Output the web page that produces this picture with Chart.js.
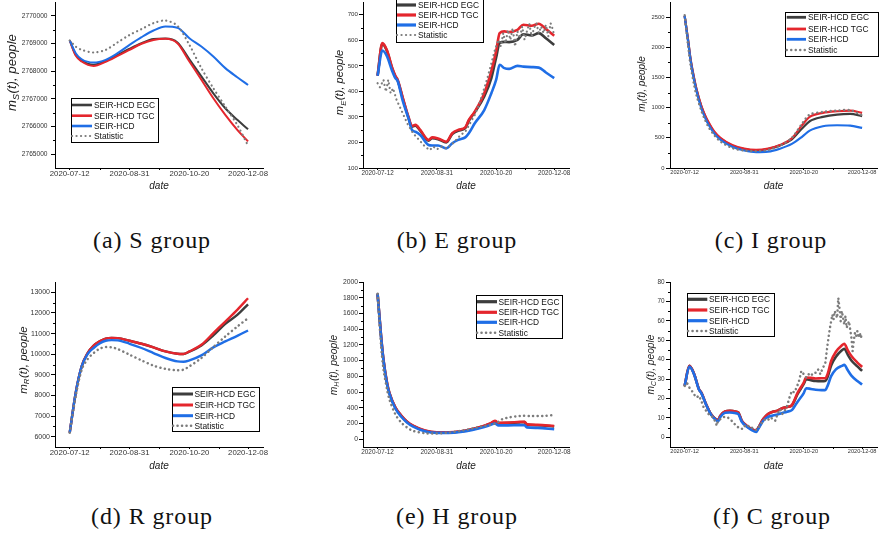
<!DOCTYPE html>
<html>
<head>
<meta charset="utf-8">
<script src="https://cdn.jsdelivr.net/npm/chart.js@4.4.1/dist/chart.umd.min.js"></script>
<style>
  html, body { margin: 0; padding: 0; background: #fff; }
  body { width: 879px; height: 533px; position: relative; overflow: hidden; }
  .panel { position: absolute; }
  .cap {
    position: absolute; transform: translate(-50%, -50%);
    font-family: "Liberation Serif", "Times New Roman", serif; font-size: 24px;
    letter-spacing: 0.9px; color: #111; white-space: nowrap;
  }
</style>
</head>
<body>
<div class="panel" id="pS"><canvas id="cS"></canvas></div>
<div class="panel" id="pE"><canvas id="cE"></canvas></div>
<div class="panel" id="pI"><canvas id="cI"></canvas></div>
<div class="panel" id="pR"><canvas id="cR"></canvas></div>
<div class="panel" id="pH"><canvas id="cH"></canvas></div>
<div class="panel" id="pC"><canvas id="cC"></canvas></div>

<div class="cap" style="left:152px;top:240px">(a) S group</div>
<div class="cap" style="left:457px;top:240px">(b) E group</div>
<div class="cap" style="left:771px;top:240px">(c) I group</div>
<div class="cap" style="left:152px;top:516px">(d) R group</div>
<div class="cap" style="left:457px;top:516px">(e) H group</div>
<div class="cap" style="left:772px;top:516px">(f) C group</div>

<script>
// ---- shared date axis (day 0 = 2020-07-12) ----
const DATE_TICKS  = [0, 50, 100, 149];
const DATE_LABELS = ['2020-07-12', '2020-08-31', '2020-10-20', '2020-12-08'];
const SERIES_NAMES = ['SEIR-HCD EGC', 'SEIR-HCD TGC', 'SEIR-HCD', 'Statistic'];

// ---- S group ----
const S_DAYS = [0, 5, 10, 20, 30, 40, 50, 60, 70, 80, 90, 100, 110, 120, 130, 140, 149];
const S_EGC  = [2769110, 2768590, 2768380, 2768230, 2768375, 2768590, 2768810, 2769010, 2769160, 2769180, 2769040, 2768430, 2767810, 2767200, 2766660, 2766240, 2765900];
const S_TGC  = [2769110, 2768565, 2768350, 2768190, 2768340, 2768550, 2768770, 2768990, 2769130, 2769170, 2769010, 2768350, 2767690, 2767020, 2766420, 2765880, 2765460];
const S_HCD  = [2769110, 2768650, 2768430, 2768310, 2768410, 2768650, 2768950, 2769230, 2769470, 2769615, 2769570, 2769190, 2768890, 2768530, 2768110, 2767780, 2767500];
const S_STAT = [2769110, 2768890, 2768770, 2768675, 2768770, 2769040, 2769310, 2769520, 2769735, 2769830, 2769640, 2768950, 2768110, 2767385, 2766720, 2766060, 2765310];
const S_YTICKS = [2765000, 2766000, 2767000, 2768000, 2769000, 2770000];

// ---- E group ----
const E_DAYS = [0, 4, 8, 12, 15, 17, 21, 26, 29, 32, 36, 43, 46, 51, 58, 63, 68, 74, 77, 82, 90, 96, 100, 103, 107, 111, 118, 123, 130, 136, 142, 149];
const E_TGC  = [461, 589, 560, 497, 461, 445, 380, 301, 265, 269, 249, 210, 220, 216, 203, 236, 249, 259, 288, 321, 393, 480, 557, 628, 635, 632, 641, 661, 657, 665, 644, 618];
const E_EGC  = [461, 586, 557, 494, 458, 442, 377, 298, 262, 266, 246, 207, 217, 213, 200, 233, 246, 256, 285, 318, 380, 452, 532, 590, 594, 593, 602, 624, 619, 628, 608, 582];
const E_HCD  = [461, 560, 537, 484, 452, 440, 367, 295, 249, 242, 229, 190, 188, 188, 177, 197, 210, 220, 236, 275, 327, 393, 445, 504, 491, 488, 500, 497, 495, 493, 474, 452];
const E_STAT_DAYS = [0, 2, 5, 7, 9, 11, 13, 16, 20, 25, 30, 35, 40, 44, 47, 50, 54, 58, 62, 65, 70, 74, 78, 82, 86, 90, 93, 96, 99, 102, 104, 106, 108, 110, 112, 114, 116, 118, 120, 122, 124, 126, 128, 130, 132, 134, 136, 138, 140, 142, 144, 146, 148, 149];
const E_STAT = [432, 416, 445, 399, 445, 393, 412, 367, 327, 275, 236, 210, 184, 170, 184, 173, 184, 177, 190, 203, 229, 242, 275, 308, 354, 412, 458, 510, 563, 602, 576, 628, 589, 641, 602, 648, 576, 635, 608, 654, 602, 635, 665, 615, 648, 667, 628, 654, 628, 661, 615, 667, 641, 615];
const E_YTICKS = [100, 200, 300, 400, 500, 600, 700];

// ---- I group ----
const I_DAYS = [0, 3, 5, 8, 10, 14, 17, 20, 25, 30, 40, 50, 60, 70, 80, 90, 99, 105, 116, 128, 139, 149];
const I_EGC  = [2520, 2100, 1800, 1480, 1300, 1020, 870, 750, 590, 490, 370, 315, 295, 315, 375, 475, 664, 774, 846, 885, 896, 857];
const I_TGC  = [2520, 2100, 1800, 1480, 1300, 1030, 880, 760, 600, 500, 380, 320, 300, 320, 380, 490, 720, 846, 913, 940, 951, 913];
const I_HCD  = [2520, 2080, 1780, 1450, 1270, 990, 840, 720, 570, 470, 350, 290, 262, 270, 320, 400, 525, 619, 691, 708, 702, 664];
const I_STAT = [2530, 2000, 1700, 1370, 1200, 950, 800, 680, 540, 440, 330, 290, 280, 300, 370, 500, 747, 885, 929, 951, 957, 874];
const I_YTICKS = [0, 500, 1000, 1500, 2000, 2500];

// ---- R group ----
const R_DAYS = [0, 5, 10, 15, 20, 25, 30, 35, 40, 50, 60, 70, 80, 90, 95, 100, 110, 120, 130, 140, 149];
const R_EGC  = [6193, 8124, 9411, 10055, 10410, 10620, 10750, 10790, 10780, 10650, 10505, 10330, 10135, 10020, 10010, 10120, 10420, 10910, 11470, 11905, 12420];
const R_TGC  = [6193, 8124, 9411, 10055, 10410, 10620, 10750, 10790, 10780, 10650, 10505, 10330, 10135, 10020, 10010, 10135, 10455, 11020, 11584, 12150, 12710];
const R_HCD  = [6193, 8124, 9411, 10010, 10300, 10520, 10650, 10680, 10670, 10505, 10300, 10055, 9815, 9650, 9635, 9700, 9940, 10330, 10620, 10890, 11150];
const R_STAT = [6190, 7960, 9250, 9765, 10055, 10265, 10345, 10330, 10250, 9975, 9700, 9445, 9285, 9220, 9250, 9410, 9815, 10345, 10860, 11340, 11745];
const R_YTICKS = [6000, 7000, 8000, 9000, 10000, 11000, 12000, 13000];

// ---- H group ----
const H_DAYS = [0, 3, 5, 8, 10, 15, 20, 25, 30, 40, 50, 60, 70, 80, 90, 95, 99, 102, 110, 120, 124, 126, 135, 149];
const H_EGC  = [1850, 1300, 1005, 712, 585, 402, 297, 219, 169, 107, 85, 85, 97, 127, 168, 196, 226, 203, 205, 214, 216, 183, 177, 162];
const H_TGC  = [1853, 1305, 1010, 716, 589, 405, 300, 222, 172, 110, 88, 88, 100, 130, 172, 200, 232, 208, 210, 220, 222, 188, 182, 168];
const H_HCD  = [1853, 1290, 995, 700, 575, 390, 285, 210, 160, 100, 80, 80, 92, 118, 155, 180, 200, 175, 175, 178, 176, 150, 143, 126];
const H_STAT_DAYS = [0, 3, 5, 8, 10, 15, 20, 25, 30, 40, 50, 60, 70, 80, 90, 100, 105, 110, 120, 130, 140, 149];
const H_STAT = [1850, 1180, 884, 632, 505, 316, 210, 147, 105, 76, 72, 84, 105, 135, 168, 202, 253, 274, 295, 295, 295, 307];
const H_YTICKS = [0, 200, 400, 600, 800, 1000, 1200, 1400, 1600, 1800, 2000];

// ---- C group ----
const C_DAYS = [0, 4, 8, 12, 14, 18, 22, 26, 28, 30, 34, 38, 42, 45, 48, 52, 56, 60, 62, 66, 70, 74, 78, 82, 86, 90, 95, 100, 102, 106, 110, 115, 118, 120, 123, 127, 132, 134, 137, 140, 145, 149];
const C_TGC  = [26.5, 36.8, 32.5, 24.8, 23, 17, 12, 9.4, 8.9, 11.1, 13.3, 13.7, 13.3, 12.8, 8.5, 6, 4.3, 3.4, 5.1, 9.4, 12, 13.2, 13.7, 15, 15.6, 16.6, 23.1, 28.2, 30.8, 30.6, 30.3, 30.4, 30.4, 32.5, 39.3, 44.1, 47.4, 48.2, 44.8, 41.9, 38.5, 36.2];
const C_EGC  = [26.5, 36.8, 32.5, 24.8, 23, 17, 12, 9.4, 8.9, 11.1, 13.3, 13.7, 13.3, 12.8, 8.5, 6, 4.3, 3.4, 5.1, 9.4, 12, 13.2, 13.7, 15, 15.6, 16.4, 22.5, 27.5, 29.9, 29.4, 29, 28.9, 29, 31, 37, 41.5, 44.8, 45.6, 42.5, 39.6, 36.5, 34.2];
const C_HCD  = [26.5, 36.5, 32.3, 24.6, 22.8, 16.8, 11.8, 9, 8.2, 10.5, 12.6, 12.8, 12.5, 12, 8, 5.5, 3.8, 2.7, 4.5, 8.5, 10.5, 11.2, 11.8, 12.5, 13.2, 14, 18.5, 22.8, 25.3, 24.9, 24.5, 24.3, 24.3, 26.5, 31.5, 35, 36.8, 37.3, 34.5, 31.8, 29, 27.2];
const C_STAT_DAYS = [0, 2, 4, 6, 8, 10, 12, 14, 16, 18, 20, 22, 24, 26, 27, 28, 30, 32, 34, 36, 38, 40, 42, 44, 46, 48, 50, 52, 54, 56, 58, 60, 62, 64, 66, 68, 70, 72, 74, 76, 78, 80, 82, 84, 86, 88, 90, 92, 94, 96, 98, 100, 102, 104, 106, 108, 110, 112, 114, 116, 118, 120, 122, 124, 125, 126, 128, 129, 130, 131, 132, 134, 135, 136, 138, 140, 141, 142, 143, 144, 145, 146, 147, 148, 149];
const C_STAT = [26.5, 28, 25.6, 24, 22, 20.5, 21.4, 18.8, 15.4, 13.7, 12, 11.1, 10.3, 7.7, 6, 8.5, 9.4, 10.3, 10.6, 10.3, 9.4, 8.2, 6.8, 5.5, 4.8, 4.3, 6, 5.1, 6, 5.1, 4.3, 3.8, 5.1, 6.8, 8.5, 9.4, 8.9, 10.3, 9.4, 8.5, 12, 14.5, 12, 13.7, 16.2, 20.5, 23.9, 23.1, 25.6, 29, 34.2, 32.5, 30.8, 32.5, 31.6, 33.3, 33.3, 35, 32.5, 35.9, 37.6, 47.9, 56.4, 63.2, 60.7, 65, 61.5, 71.8, 66.7, 59.8, 65, 58.1, 62.4, 56.4, 59.8, 51.3, 44.4, 49.6, 53.8, 52.1, 54.7, 51.3, 53.8, 51.3, 53.8];
const C_YTICKS = [0, 10, 20, 30, 40, 50, 60, 70, 80];

// ---- styling ----
const FAMILY = '"Liberation Sans", Arial, Helvetica, sans-serif';
const COLORS = { egc: '#3d3d3d', tgc: '#e4262d', hcd: '#1f6ee6', stat: '#7c7c7c' };
const X_MIN = -12.3, X_MAX = 161.5;
const DOT_DASH = [0.1, 4.4];

Chart.defaults.font.family = FAMILY;
Chart.defaults.color = '#333';

// Boxed legend drawn inside the plot, built from the dataset styles.
const legendBox = {
  id: 'legendBox',
  afterDraw(chart, args, o) {
    const ctx = chart.ctx;
    const [x0, y0, x1, y1] = o.rect;
    ctx.save();
    ctx.fillStyle = '#fff';
    ctx.fillRect(x0, y0, x1 - x0, y1 - y0);
    ctx.strokeStyle = '#000';
    ctx.lineWidth = 1;
    ctx.strokeRect(Math.round(x0) + 0.5, Math.round(y0) + 0.5, Math.round(x1 - x0), Math.round(y1 - y0));
    ctx.font = o.fontSize + 'px ' + FAMILY;
    ctx.textBaseline = 'middle';
    ctx.textAlign = 'left';
    chart.data.datasets.forEach((ds, k) => {
      const ry = o.rows[k];
      ctx.beginPath();
      ctx.strokeStyle = ds.borderColor;
      ctx.lineWidth = ds.legendWidth;
      ctx.setLineDash(ds.borderDash || []);
      ctx.lineCap = ds.borderCapStyle || 'butt';
      ctx.moveTo(o.line[0], ry);
      ctx.lineTo(o.line[1], ry);
      ctx.stroke();
      ctx.setLineDash([]);
      ctx.fillStyle = '#111';
      ctx.fillText(ds.label, o.textX, ry + 0.5);
    });
    ctx.restore();
  }
};

// Italic axis titles; the y title carries a subscripted compartment letter.
const axisTitles = {
  id: 'axisTitles',
  afterDraw(chart, args, o) {
    const ctx = chart.ctx;
    ctx.save();
    ctx.fillStyle = '#1a1a1a';
    ctx.textBaseline = 'alphabetic';
    const f = o.ySize, fs = f * 0.68;
    const big = 'italic ' + f + 'px ' + FAMILY;
    const small = 'italic ' + fs + 'px ' + FAMILY;
    const tail = '(t), people';
    ctx.font = big;
    const w1 = ctx.measureText('m').width;
    const w3 = ctx.measureText(tail).width;
    ctx.font = small;
    const w2 = ctx.measureText(o.sub).width + 0.5;
    ctx.translate(o.yCx, o.yCy);
    ctx.rotate(-Math.PI / 2);
    let x = -(w1 + w2 + w3) / 2;
    const base = f * 0.36;
    ctx.font = big;  ctx.fillText('m', x, base); x += w1;
    ctx.font = small; ctx.fillText(o.sub, x, base + f * 0.2); x += w2;
    ctx.font = big;  ctx.fillText(tail, x, base);
    ctx.setTransform(1, 0, 0, 1, 0, 0);
    ctx.font = 'italic ' + o.xSize + 'px ' + FAMILY;
    ctx.textAlign = 'center';
    ctx.textBaseline = 'middle';
    ctx.fillText('date', o.xCx, o.xCy);
    ctx.restore();
  }
};

// Short minor ticks halfway between major ticks.
const minorTicks = {
  id: 'minorTicks',
  afterDraw(chart, args, o) {
    const { ctx, chartArea: a, scales: { x, y } } = chart;
    ctx.save();
    ctx.strokeStyle = '#000';
    ctx.lineWidth = 1;
    ctx.beginPath();
    const yt = y.ticks.map(t => t.value);
    for (let i = 0; i < yt.length - 1; i++) {
      const py = Math.round(y.getPixelForValue((yt[i] + yt[i + 1]) / 2)) + 0.5;
      ctx.moveTo(a.left, py); ctx.lineTo(a.left - o.len, py);
    }
    const xt = x.ticks.map(t => t.value);
    for (let i = 0; i < xt.length - 1; i++) {
      const px = Math.round(x.getPixelForValue((xt[i] + xt[i + 1]) / 2)) + 0.5;
      ctx.moveTo(px, a.bottom); ctx.lineTo(px, a.bottom + o.len);
    }
    ctx.stroke();
    ctx.restore();
  }
};

function pts(days, vals) { return days.map((d, i) => ({ x: d, y: vals[i] })); }

function build(p) {
  const [bx, by, bx2, by2] = p.box;
  const [pl, pt, pr, pb] = p.plot;
  const holder = document.getElementById(p.holder);
  holder.style.left = bx + 'px';
  holder.style.top = by + 'px';
  holder.style.width = (bx2 - bx) + 'px';
  holder.style.height = (by2 - by) + 'px';

  const model = (color, order, label, data) => ({
    label, data, borderColor: color, borderWidth: p.lw, legendWidth: p.lw + 0.6,
    pointRadius: 0, cubicInterpolationMode: 'monotone', fill: false, order
  });
  const datasets = [
    model(COLORS.egc, 4, SERIES_NAMES[0], pts(p.days, p.egc)),
    model(COLORS.tgc, 3, SERIES_NAMES[1], pts(p.days, p.tgc)),
    model(COLORS.hcd, 2, SERIES_NAMES[2], pts(p.days, p.hcd)),
    {
      label: SERIES_NAMES[3], data: pts(p.statDays, p.stat),
      borderColor: COLORS.stat, borderWidth: p.dotW, legendWidth: p.dotW,
      borderDash: DOT_DASH, borderCapStyle: 'round', pointRadius: 0,
      tension: p.statTension, fill: false, order: 1
    }
  ];

  const L = p.legend;
  const shiftX = v => v - bx, shiftY = v => v - by;

  new Chart(document.getElementById(p.canvas), {
    type: 'line',
    data: { datasets },
    plugins: [minorTicks, legendBox, axisTitles],
    options: {
      responsive: true,
      maintainAspectRatio: false,
      animation: false,
      events: [],
      layout: { padding: { left: 0, top: pt - by, right: bx2 - pr, bottom: 0 } },
      scales: {
        x: {
          type: 'linear', min: X_MIN, max: X_MAX,
          afterBuildTicks: s => { s.ticks = DATE_TICKS.map(v => ({ value: v })); },
          afterFit: s => { s.height = by2 - pb; s.paddingLeft = 0; s.paddingRight = 0; },
          border: { display: true, color: '#000', width: 1 },
          grid: { drawOnChartArea: false, drawTicks: true, tickLength: 2, tickColor: '#000' },
          ticks: {
            autoSkip: false, maxRotation: 0, minRotation: 0, padding: -1,
            color: '#333', font: { size: p.xFont },
            callback: (v, i) => DATE_LABELS[i]
          }
        },
        y: {
          type: 'linear', min: p.yRange[0], max: p.yRange[1],
          afterBuildTicks: s => { s.ticks = p.yTicks.map(v => ({ value: v })); },
          afterFit: s => { s.width = pl - bx; s.paddingTop = 0; s.paddingBottom = 0; },
          border: { display: true, color: '#000', width: 1 },
          grid: { drawOnChartArea: false, drawTicks: true, tickLength: 4, tickColor: '#000' },
          ticks: {
            autoSkip: false, padding: p.yPad,
            color: '#333', font: { size: p.yFont },
            callback: v => String(v)
          }
        }
      },
      plugins: {
        legend: { display: false },
        tooltip: { enabled: false },
        minorTicks: { len: 2 },
        legendBox: {
          rect: [shiftX(L.rect[0]), shiftY(L.rect[1]), shiftX(L.rect[2]), shiftY(L.rect[3])],
          rows: L.rows.map(shiftY),
          line: L.line.map(shiftX),
          textX: shiftX(L.textX),
          fontSize: 8.4
        },
        axisTitles: {
          sub: p.sub, ySize: p.yTitle[2], yCx: shiftX(p.yTitle[0]), yCy: shiftY(p.yTitle[1]),
          xSize: 10, xCx: shiftX((pl + pr) / 2), xCy: shiftY(p.xTitleY)
        }
      }
    }
  });
}

const PANELS = [
  { holder: 'pS', canvas: 'cS', box: [0, 0, 290, 200], plot: [55, 2, 263, 168],
    yRange: [2764500, 2770500], yTicks: S_YTICKS, sub: 'S',
    days: S_DAYS, egc: S_EGC, tgc: S_TGC, hcd: S_HCD, statDays: S_DAYS, stat: S_STAT, statTension: 0.3,
    lw: 2, dotW: 2.2, xFont: 7.8, yFont: 6.6, yPad: 3.5, yTitle: [11.5, 72.5, 13.2], xTitleY: 186.7,
    legend: { rect: [71, 98, 158, 142], rows: [105, 115.7, 126, 136], line: [72, 92], textX: 94 } },
  { holder: 'pE', canvas: 'cE', box: [290, 0, 590, 200], plot: [363, 2, 569, 168],
    yRange: [100, 750], yTicks: E_YTICKS, sub: 'E',
    days: E_DAYS, egc: E_EGC, tgc: E_TGC, hcd: E_HCD, statDays: E_STAT_DAYS, stat: E_STAT, statTension: 0,
    lw: 2.6, dotW: 2.2, xFont: 6.3, yFont: 6.2, yPad: 1, yTitle: [339.3, 82.5, 11.2], xTitleY: 186.7,
    legend: { rect: [396, -1, 483, 42], rows: [5, 15, 25, 35], line: [397, 416], textX: 418 } },
  { holder: 'pI', canvas: 'cI', box: [590, 0, 879, 200], plot: [670, 2, 877, 168],
    yRange: [0, 2750], yTicks: I_YTICKS, sub: 'I',
    days: I_DAYS, egc: I_EGC, tgc: I_TGC, hcd: I_HCD, statDays: I_DAYS, stat: I_STAT, statTension: 0.3,
    lw: 2.2, dotW: 2.4, xFont: 5.6, yFont: 5.8, yPad: 1.5, yTitle: [641.7, 84, 10], xTitleY: 186.7,
    legend: { rect: [785, 12, 878, 56], rows: [17.3, 29, 39.3, 50], line: [786.7, 806], textX: 808 } },
  { holder: 'pR', canvas: 'cR', box: [0, 270, 290, 480], plot: [55, 282, 263, 447],
    yRange: [5500, 13500], yTicks: R_YTICKS, sub: 'R',
    days: R_DAYS, egc: R_EGC, tgc: R_TGC, hcd: R_HCD, statDays: R_DAYS, stat: R_STAT, statTension: 0.3,
    lw: 2.4, dotW: 2.5, xFont: 7.8, yFont: 7, yPad: 1, yTitle: [23, 360, 11.5], xTitleY: 466.7,
    legend: { rect: [171.7, 387.3, 258.3, 431.7], rows: [394, 405, 415.7, 425.7], line: [173, 193], textX: 194.5 } },
  { holder: 'pH', canvas: 'cH', box: [290, 270, 590, 480], plot: [363, 282, 569, 447],
    yRange: [-100, 2000], yTicks: H_YTICKS, sub: 'H',
    days: H_DAYS, egc: H_EGC, tgc: H_TGC, hcd: H_HCD, statDays: H_STAT_DAYS, stat: H_STAT, statTension: 0.3,
    lw: 2.6, dotW: 2.5, xFont: 6.4, yFont: 6.8, yPad: 1, yTitle: [333.3, 365, 10.3], xTitleY: 466,
    legend: { rect: [475.7, 295, 561.7, 338.3], rows: [301.7, 312.3, 322.3, 332.7], line: [477, 497], textX: 498.5 } },
  { holder: 'pC', canvas: 'cC', box: [590, 270, 879, 480], plot: [670, 282, 877, 447],
    yRange: [-5, 80], yTicks: C_YTICKS, sub: 'C',
    days: C_DAYS, egc: C_EGC, tgc: C_TGC, hcd: C_HCD, statDays: C_STAT_DAYS, stat: C_STAT, statTension: 0,
    lw: 2.6, dotW: 2.5, xFont: 5.6, yFont: 6.4, yPad: 1.5, yTitle: [650, 364.5, 10.2], xTitleY: 466,
    legend: { rect: [686.7, 293.3, 773.3, 336.7], rows: [299.3, 310, 320.7, 331], line: [688, 707.3], textX: 709 } }
];

PANELS.forEach(build);
</script>
</body>
</html>
